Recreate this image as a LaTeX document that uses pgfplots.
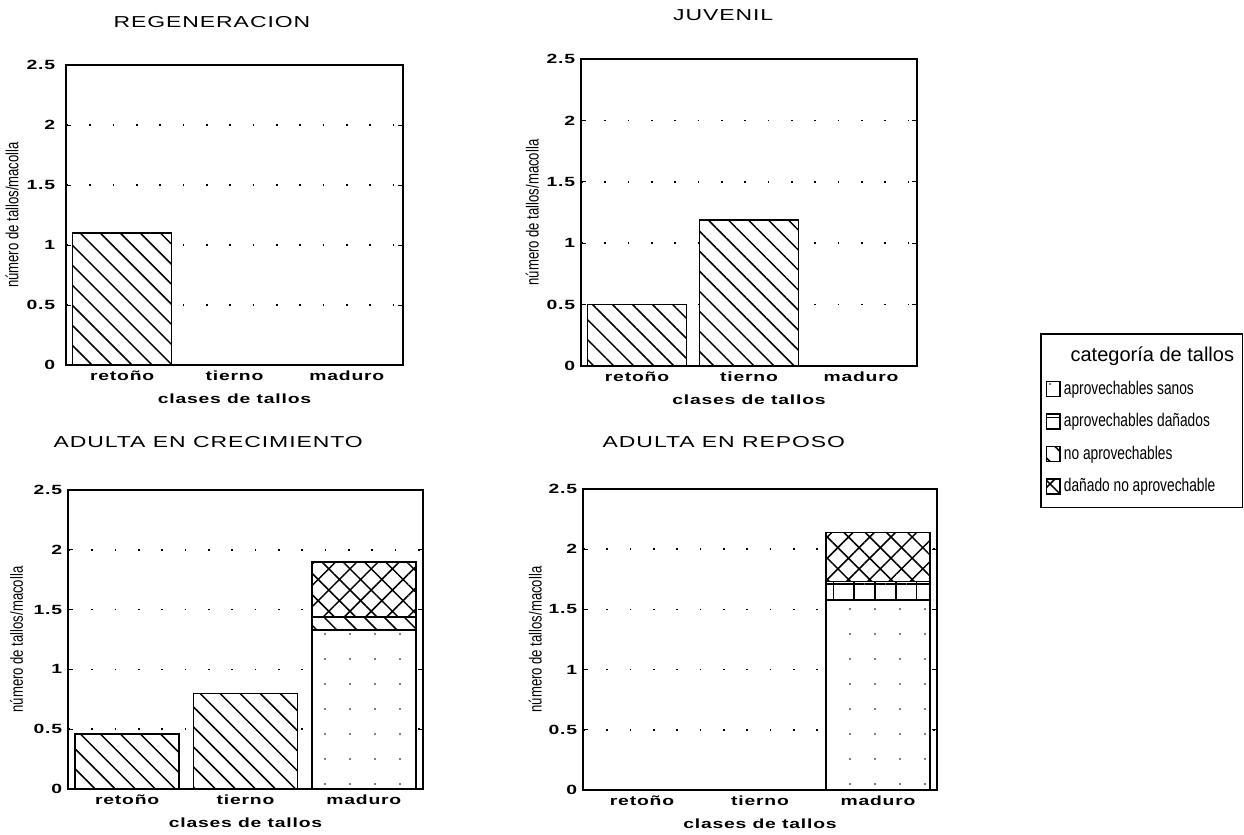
\documentclass[border=0pt]{standalone}
\usepackage{fontspec}
\setmainfont{Liberation Sans}
\newfontfamily\widefont[FakeStretch=1.45,LetterSpace=6]{Liberation Sans}
\newfontfamily\narrowfont[FakeStretch=0.75]{Liberation Sans}
\usepackage{pgfplots}
\pgfplotsset{compat=1.18}
\usetikzlibrary{patterns.meta}

% fill styles of the four stem categories
\pgfplotsset{
  sanos/.style={fill=white, draw=black, line width=0.9pt,
    postaction={pattern={Dots[distance=15pt,radius=0.5pt]}}},
  danados/.style={fill=white, draw=black, line width=0.9pt,
    postaction={pattern={Hatch[angle=0,distance=12.5pt,line width=0.9pt]}}},
  noaprov/.style={fill=white, draw=black, line width=0.9pt,
    postaction={pattern={Lines[angle=-45,distance=8.5pt,line width=0.9pt]}}},
  danonoaprov/.style={fill=white, draw=black, line width=0.9pt,
    postaction={pattern={Hatch[angle=45,distance=9pt,line width=0.9pt]}}},
  panel/.style={
    scale only axis, ybar stacked, bar width=0.88,
    xmin=-0.5, xmax=2.5, ymin=0, ymax=2.5,
    xtick={0,1,2}, xticklabels={retoño,tierno,maduro},
    ytick={0,0.5,...,2.5},
    ymajorgrids,
    major grid style={black, line width=1pt, dash pattern=on 1pt off 13pt},
    axis line style={line width=1.1pt},
    tick align=inside, major tick length=3pt,
    ytick style={black, line width=0.6pt}, xtick style={draw=none},
    ticklabel style={font=\widefont\bfseries\footnotesize},
    /pgf/number format/assume math mode=true,
    xlabel={clases de tallos},
    xlabel style={font=\widefont\bfseries\footnotesize,
      at={(axis description cs:0.5,0)}, anchor=center, yshift=-20pt},
    ylabel={número de tallos/macolla},
    ylabel style={font=\narrowfont\fontsize{10.5}{12}\selectfont, anchor=center},
    title style={font=\widefont\fontsize{9.5}{11}\selectfont, anchor=center},
    legend image code/.code={\draw[#1] (0pt,-4.5pt) rectangle (8pt,4.5pt);},
  },
}

\begin{document}
\begin{tikzpicture}
\path[use as bounding box] (0pt,0pt) rectangle (746.4pt,-500.4pt);

% REGENERACION
\begin{axis}[panel, at={(39.6pt,-219pt)}, anchor=south west,
  width=202.2pt, height=180pt,
  title={REGENERACION},
  title style={at={(axis description cs:0.433,1)}, yshift=20pt},
  yticklabel style={xshift=-3pt},
  ylabel style={at={(axis description cs:-0.16,0.5)}}]
\addplot[sanos] coordinates {(0,0) (1,0) (2,0)};
\addplot[danados] coordinates {(0,0) (1,0) (2,0)};
\addplot[noaprov] coordinates {(0,1.1) (1,0) (2,0)};
\addplot[danonoaprov] coordinates {(0,0) (1,0) (2,0)};
\end{axis}

% JUVENIL
\begin{axis}[panel, at={(348.6pt,-219.6pt)}, anchor=south west,
  width=201.6pt, height=184.2pt,
  title={JUVENIL},
  title style={at={(axis description cs:0.423,1)}, yshift=20.6pt},
  ylabel style={at={(axis description cs:-0.145,0.5)}}]
\addplot[sanos] coordinates {(0,0) (1,0) (2,0)};
\addplot[danados] coordinates {(0,0) (1,0) (2,0)};
\addplot[noaprov] coordinates {(0,0.5) (1,1.19) (2,0)};
\addplot[danonoaprov] coordinates {(0,0) (1,0) (2,0)};
\end{axis}

% ADULTA EN CRECIMIENTO
\begin{axis}[panel, at={(40.8pt,-473.4pt)}, anchor=south west,
  width=213pt, height=179.4pt,
  title={ADULTA EN CRECIMIENTO},
  title style={at={(axis description cs:0.395,1)}, yshift=23pt},
  ylabel style={at={(axis description cs:-0.145,0.5)}}]
\addplot[sanos] coordinates {(0,0) (1,0) (2,1.33)};
\addplot[danados] coordinates {(0,0) (1,0) (2,0)};
\addplot[noaprov] coordinates {(0,0.46) (1,0.8) (2,0.11)};
\addplot[danonoaprov] coordinates {(0,0) (1,0) (2,0.46)};
\end{axis}

% ADULTA EN REPOSO
\begin{axis}[panel, at={(349.8pt,-474pt)}, anchor=south west,
  width=212.4pt, height=180.6pt,
  title={ADULTA EN REPOSO},
  title style={at={(axis description cs:0.398,1)}, yshift=22.4pt},
  ylabel style={at={(axis description cs:-0.135,0.5)}},
  legend style={at={(axis description cs:1.291,1.518)}, anchor=north west,
    draw=black, line width=0.9pt,
    font=\narrowfont\fontsize{11}{13}\selectfont,
    row sep=6pt, inner xsep=3pt, inner ysep=6pt,
    cells={anchor=west}},
  legend cell align=left]
\addlegendimage{empty legend}
\addlegendentry{\hspace*{4pt}\normalfont\fontsize{12}{14}\selectfont categoría de tallos}
\addplot[sanos] coordinates {(0,0) (1,0) (2,1.58)};
\addlegendentry{aprovechables sanos}
\addplot[danados] coordinates {(0,0) (1,0) (2,0.15)};
\addlegendentry{aprovechables dañados}
\addplot[noaprov] coordinates {(0,0) (1,0) (2,0)};
\addlegendentry{no aprovechables}
\addplot[danonoaprov] coordinates {(0,0) (1,0) (2,0.41)};
\addlegendentry{dañado no aprovechable}
\end{axis}
\end{tikzpicture}
\end{document}
